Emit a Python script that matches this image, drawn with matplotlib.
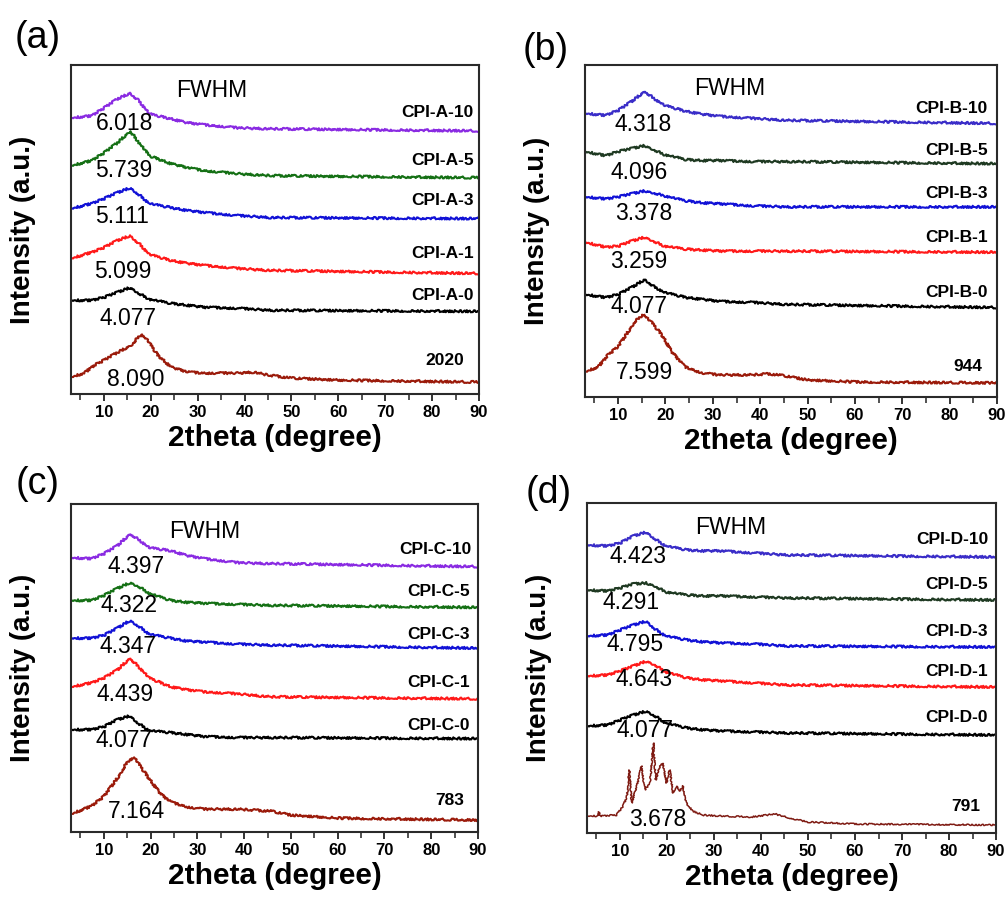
import matplotlib
matplotlib.use("Agg")
import matplotlib.pyplot as plt
from matplotlib.ticker import MultipleLocator

plt.rcParams['font.family'] = ['Liberation Sans', 'DejaVu Sans']

# 2theta grid shared by the amorphous CPI film patterns
two_theta = [3, 7.3, 10.1, 12.9, 15.6, 17.5, 19.7, 24.3, 27.8, 31.4, 38.5, 45.6, 90]

# ---- panel (a) ----
cpi_a10 = [277, 279, 287, 296, 302, 294, 281, 276, 272, 270, 267, 266, 264]
cpi_a5 = [229, 234, 242, 252, 264, 252, 239, 231, 227, 224, 221, 219, 217]
cpi_a3 = [186, 191, 196, 202, 207, 200, 191, 187, 184, 182, 179, 177, 176]
cpi_a1 = [136, 142, 147, 154, 159, 151, 140, 134, 131, 129, 126, 124, 121]
cpi_a0 = [94, 94, 97, 102, 107, 101, 95, 91, 89, 87, 86, 84, 83]
ref_2020_x = [3, 5.8, 8, 10.1, 13, 15.8, 17.9, 19.3, 21.5, 24.3, 27.9, 31.4, 38.5, 42, 45, 50, 60, 90]
ref_2020_y = [17, 21, 29, 34, 42, 49, 60, 54, 39, 27, 22, 21, 21, 22, 19, 16, 14, 12]

# ---- panel (b) ----
cpi_b10 = [282, 280, 285, 294, 304, 297, 290, 284, 281, 279, 277, 275, 272]
cpi_b5 = [244, 240, 244, 247, 250, 246, 241, 236, 235, 235, 234, 234, 232]
cpi_b3 = [199, 197, 199, 202, 205, 203, 200, 195, 193, 192, 190, 189, 189]
cpi_b1 = [154, 149, 150, 155, 159, 155, 150, 147, 146, 145, 145, 145, 144]
cpi_b0 = [102, 99, 102, 109, 117, 110, 104, 99, 97, 95, 94, 92, 89]
ref_944_x = [3, 5.8, 7.9, 10, 12.1, 13.5, 15.3, 17.1, 19.2, 21.3, 24.1, 27.6, 31.1, 38.2, 42, 45.2, 50, 60, 90]
ref_944_y = [25, 30, 42, 50, 65, 75, 82, 74, 62, 45, 30, 24, 22, 22, 23, 21, 17, 15, 14]

# ---- panel (c) ----
cpi_c10 = [276, 275, 280, 288, 300, 294, 286, 283, 278, 275, 271, 270, 267]
cpi_c5 = [233, 233, 238, 245, 251, 247, 240, 233, 231, 230, 229, 228, 226]
cpi_c3 = [195, 195, 198, 205, 213, 207, 199, 195, 192, 191, 189, 188, 185]
cpi_c1 = [146, 150, 155, 163, 175, 166, 155, 146, 143, 141, 139, 136, 134]
cpi_c0 = [103, 103, 106, 113, 117, 109, 102, 100, 98, 96, 95, 95, 94]
ref_783_x = [3, 7.3, 10.1, 13, 15.1, 16.5, 18, 20.1, 22.2, 24.4, 28, 31.5, 38.6, 42, 45.7, 50, 60, 90]
ref_783_y = [18, 26, 36, 55, 71, 75, 65, 51, 38, 30, 25, 23, 23, 22, 21, 17, 14, 12]

# ---- panel (d) ----
cpi_d10 = [288, 287, 290, 297, 301, 294, 287, 283, 282, 282, 280, 278, 276]
cpi_d5 = [243, 242, 245, 249, 250, 247, 241, 238, 237, 237, 236, 235, 233]
cpi_d3 = [197, 198, 203, 208, 212, 204, 197, 193, 191, 190, 189, 187, 186]
cpi_d1 = [157, 158, 162, 167, 172, 168, 161, 155, 153, 152, 150, 148, 146]
cpi_d0 = [107, 108, 113, 118, 122, 117, 110, 105, 103, 102, 101, 100, 98]
ref_791_x = [3, 5.2, 5.5, 5.8, 9.3, 10.7, 11.5, 12.0, 12.5, 13.6, 14.6, 15.3, 16.4, 17.1,
             17.6, 18.5, 19.1, 19.9, 20.6, 21.3, 22.0, 22.7, 23.4, 24.1, 25.5, 27.6, 31.2,
             38, 43, 46, 50, 60, 90]
ref_791_y = [17, 17, 21, 17, 18, 27, 37, 63, 30, 47, 67, 43, 50, 90, 53, 67, 70, 50, 63,
             40, 47, 42, 47, 30, 22, 18, 17, 16, 19, 15, 11, 9, 8]

# sample names and FWHM values (top to bottom)
names_a = ["CPI-A-10", "CPI-A-5", "CPI-A-3", "CPI-A-1", "CPI-A-0", "2020"]
names_b = ["CPI-B-10", "CPI-B-5", "CPI-B-3", "CPI-B-1", "CPI-B-0", "944"]
names_c = ["CPI-C-10", "CPI-C-5", "CPI-C-3", "CPI-C-1", "CPI-C-0", "783"]
names_d = ["CPI-D-10", "CPI-D-5", "CPI-D-3", "CPI-D-1", "CPI-D-0", "791"]
fwhm_a = ["6.018", "5.739", "5.111", "5.099", "4.077", "8.090"]
fwhm_b = ["4.318", "4.096", "3.378", "3.259", "4.077", "7.599"]
fwhm_c = ["4.397", "4.322", "4.347", "4.439", "4.077", "7.164"]
fwhm_d = ["4.423", "4.291", "4.795", "4.643", "4.077", "3.678"]

PURPLE, GREEN, BLUE, RED, BLACK, BROWN = "#8A2BE2", "#157015", "#1212D6", "#FF1A1A", "#000000", "#9B1B0B"
INDIGO, DKGREEN, DKBROWN = "#3A2DC8", "#1F3A22", "#7E1A12"

panels = [
    dict(tag="(a)", rect=[0.0706, 0.5612, 0.4056, 0.3664], tagpos=(0.037, 0.958),
         curves=[(two_theta, cpi_a10, PURPLE), (two_theta, cpi_a5, GREEN), (two_theta, cpi_a3, BLUE),
                 (two_theta, cpi_a1, RED), (two_theta, cpi_a0, BLACK), (ref_2020_x, ref_2020_y, BROWN)],
         names=names_a, fwhm=fwhm_a,
         name_pos=[(88.9, 282), (88.9, 234), (88.9, 194), (88.9, 141), (88.9, 99), (86.8, 34)],
         fwhm_pos=[(14.5, 271), (14.3, 224), (13.9, 178), (14.0, 123), (15.1, 76), (16.8, 15)],
         head=(33.0, 304)),
    dict(tag="(b)", rect=[0.5815, 0.5579, 0.4095, 0.3697], tagpos=(0.542, 0.944),
         curves=[(two_theta, cpi_b10, INDIGO), (two_theta, cpi_b5, DKGREEN), (two_theta, cpi_b3, BLUE),
                 (two_theta, cpi_b1, RED), (two_theta, cpi_b0, BLACK), (ref_944_x, ref_944_y, BROWN)],
         names=names_b, fwhm=fwhm_b,
         name_pos=[(88.1, 287), (88.1, 245), (88.1, 202), (88.1, 159), (88.1, 104), (86.8, 30)],
         fwhm_pos=[(15.3, 271), (14.4, 223), (15.5, 182), (14.4, 135), (14.4, 90), (15.5, 24)],
         head=(33.6, 307)),
    dict(tag="(c)", rect=[0.0706, 0.0735, 0.4046, 0.3653], tagpos=(0.037, 0.461),
         curves=[(two_theta, cpi_c10, PURPLE), (two_theta, cpi_c5, GREEN), (two_theta, cpi_c3, BLUE),
                 (two_theta, cpi_c1, RED), (two_theta, cpi_c0, BLACK), (ref_783_x, ref_783_y, BROWN)],
         names=names_c, fwhm=fwhm_c,
         name_pos=[(88.7, 284), (88.3, 242), (88.3, 199), (88.3, 150), (88.3, 107), (87.0, 32)],
         fwhm_pos=[(17.0, 267), (15.3, 228), (15.1, 187), (14.5, 138), (14.3, 92), (17.0, 21)],
         head=(31.6, 302)),
    dict(tag="(d)", rect=[0.5835, 0.0724, 0.4066, 0.3675], tagpos=(0.545, 0.451),
         curves=[(two_theta, cpi_d10, INDIGO), (two_theta, cpi_d5, DKGREEN), (two_theta, cpi_d3, BLUE),
                 (two_theta, cpi_d1, RED), (two_theta, cpi_d0, BLACK), (ref_791_x, ref_791_y, DKBROWN)],
         names=names_d, fwhm=fwhm_d,
         name_pos=[(88.3, 293), (88.3, 248), (88.3, 201), (88.3, 161), (88.3, 115), (86.6, 26)],
         fwhm_pos=[(13.8, 276), (12.3, 230), (13.2, 188), (15.1, 153), (15.3, 102), (18.0, 13)],
         head=(33.5, 305)),
]

fig = plt.figure(figsize=(10.06, 8.98), dpi=100)

for p in panels:
    ax = fig.add_axes(p["rect"])
    for xs, ys, col in p["curves"]:
        sharp = col == DKBROWN
        ln, = ax.plot(xs, ys, color=col, lw=1.1 if sharp else 1.5)
        ln.set_sketch_params(0.7 if sharp else 1.1, 0.7, 3.0)
    for name, (nx, ny) in zip(p["names"], p["name_pos"]):
        ax.text(nx, ny, name, ha="right", va="center", fontsize=12.5, fontweight="bold")
    for val, (fx, fy) in zip(p["fwhm"], p["fwhm_pos"]):
        ax.text(fx, fy, val, ha="center", va="center", fontsize=16.5)
    ax.text(p["head"][0], p["head"][1], "FWHM", ha="center", va="center", fontsize=16.5)

    ax.set_xlim(3, 90)
    ax.set_ylim(0, 330)
    ax.set_yticks([])
    ax.xaxis.set_major_locator(MultipleLocator(10))
    ax.xaxis.set_minor_locator(MultipleLocator(5))
    ax.tick_params(axis="x", which="major", direction="out", length=5, width=1.3,
                   labelsize=12, pad=3, color="#222222")
    ax.tick_params(axis="x", which="minor", direction="out", length=4, width=1.1, color="#222222")
    for lab in ax.get_xticklabels():
        lab.set_fontweight("bold")
    for sp in ax.spines.values():
        sp.set_linewidth(1.5)
        sp.set_color("#2a2a2a")
    ax.set_xlabel("2theta (degree)", fontsize=21.5, fontweight="bold", labelpad=3)
    ax.set_ylabel("Intensity (a.u.)", fontsize=20, fontweight="bold")
    ax.yaxis.set_label_coords(-0.085, 0.5)
    fig.text(p["tagpos"][0], p["tagpos"][1], p["tag"], ha="center", va="center", fontsize=27)

fig.savefig("out.png", dpi=100)
